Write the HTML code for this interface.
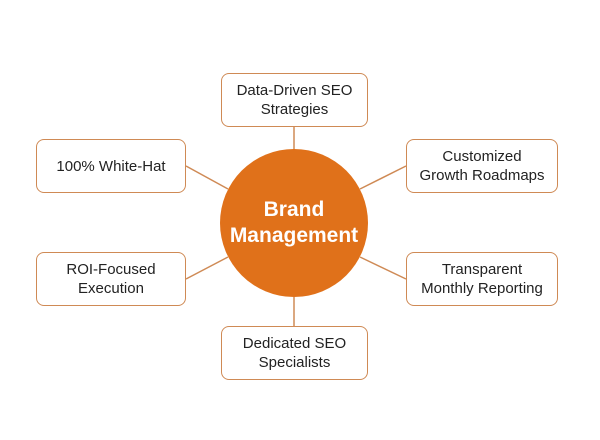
<!DOCTYPE html>
<html><head><style>
body{margin:0;background:#fff;width:600px;height:440px;position:relative;font-family:"Liberation Sans",sans-serif;overflow:hidden}
.b{position:absolute;box-sizing:border-box;border:1.5px solid #cf8a55;border-radius:8px;background:#fff;display:flex;align-items:center;justify-content:center;text-align:center;font-size:15px;line-height:19px;color:#222}
.c{position:absolute;left:220px;top:149px;width:148px;height:148px;border-radius:50%;background:#e0711a;color:#fff;font-weight:bold;font-size:21px;line-height:26px;display:flex;align-items:center;justify-content:center;text-align:center}
</style></head><body>
<svg width="600" height="440" style="position:absolute;left:0;top:0">
<g stroke="#cf8a55" stroke-width="1.5">
<line x1="294" y1="127" x2="294" y2="150"/>
<line x1="294" y1="297" x2="294" y2="326"/>
<line x1="186" y1="166" x2="228" y2="189"/>
<line x1="406" y1="166" x2="360" y2="189"/>
<line x1="186" y1="279" x2="228" y2="257"/>
<line x1="406" y1="279" x2="360" y2="257"/>
</g></svg>
<div class="b" style="left:221px;top:73px;width:147px;height:54px">Data-Driven SEO<br>Strategies</div>
<div class="b" style="left:36px;top:139px;width:150px;height:54px">100% White-Hat</div>
<div class="b" style="left:406px;top:139px;width:152px;height:54px">Customized<br>Growth Roadmaps</div>
<div class="b" style="left:36px;top:252px;width:150px;height:54px">ROI-Focused<br>Execution</div>
<div class="b" style="left:406px;top:252px;width:152px;height:54px">Transparent<br>Monthly Reporting</div>
<div class="b" style="left:221px;top:326px;width:147px;height:54px">Dedicated SEO<br>Specialists</div>
<div class="c">Brand<br>Management</div>
</body></html>
